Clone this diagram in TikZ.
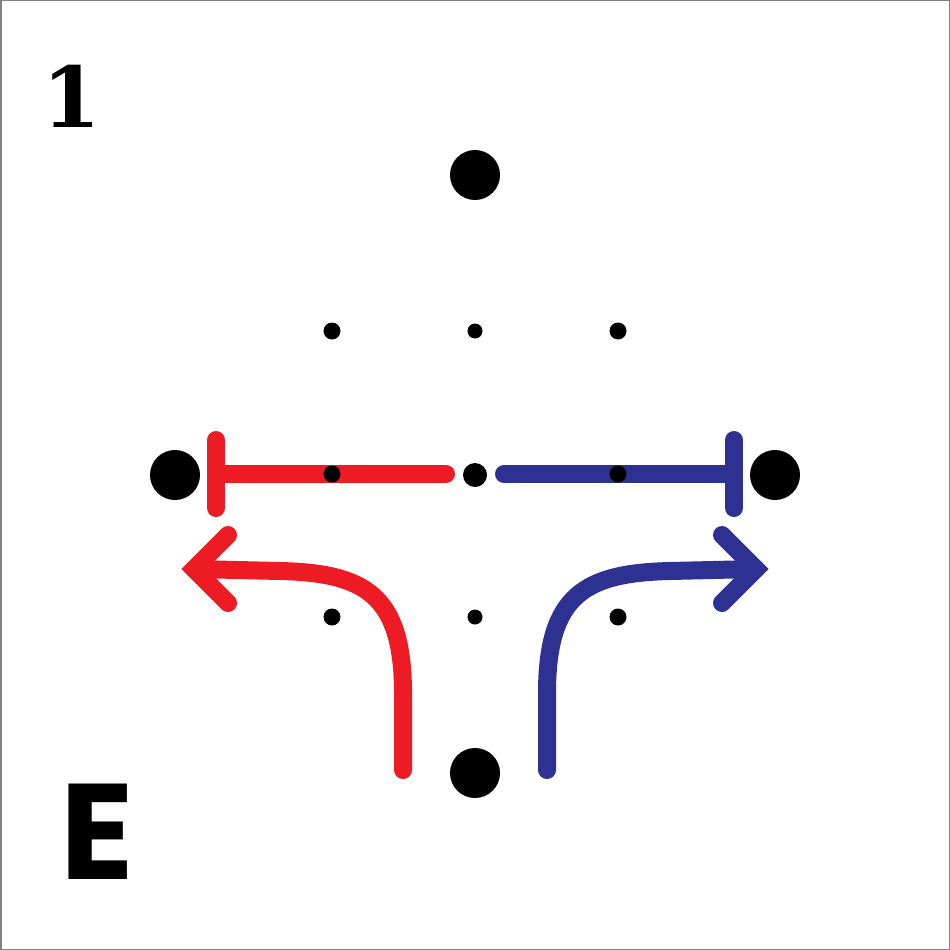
\documentclass[tikz,border=0pt]{standalone}
\usepackage{fontspec}
\newfontfamily\efont{Poppins}
\newfontfamily\onefont{DejaVu Serif}
\definecolor{myred}{HTML}{ED1C24}
\definecolor{myblue}{HTML}{2E3192}
\begin{document}
\begin{tikzpicture}[x=1pt,y=-1pt,
  bigdot/.style={circle,fill=black,minimum size=50pt,inner sep=0pt},
  middot/.style={circle,fill=black,minimum size=24pt,inner sep=0pt},
  smalldot/.style={circle,fill=black,minimum size=17pt,inner sep=0pt},
  tinydot/.style={circle,fill=black,minimum size=15pt,inner sep=0pt},
  stroke/.style={line width=18pt,line cap=round},
  head/.style={line width=18pt,line cap=round,line join=miter}]
\useasboundingbox (0,0) rectangle (950,950);
\draw[gray,line width=1.5pt] (0.75,0.75) rectangle (949.25,949.25);
% coordinates
\coordinate (rs) at (446,474);
\coordinate (rt) at (216,474);
\coordinate (bs) at (504,474);
\coordinate (bt) at (734,474);
% red inhibition
\draw[stroke,myred] (rs) -- (rt);
\draw[stroke,myred] ([yshift=-34pt]rt) -- ([yshift=34pt]rt);
% blue inhibition
\draw[stroke,myblue] (bs) -- (bt);
\draw[stroke,myblue] ([yshift=-34pt]bt) -- ([yshift=34pt]bt);
% red curved arrow
\coordinate (r0) at (403,770);
\coordinate (rtip) at (194,569);
\draw[stroke,myred] (r0) -- (403,690) .. controls (402,595) and (365,573) .. (280,571) -- (rtip);
\draw[head,myred] (228,535) -- (rtip) -- (228,603);
% blue curved arrow
\coordinate (b0) at (547,770);
\coordinate (btip) at (756,569);
\draw[stroke,myblue] (b0) -- (547,690) .. controls (548,595) and (585,573) .. (670,571) -- (btip);
\draw[head,myblue] (722,535) -- (btip) -- (722,603);
% labels
\node[font=\onefont\fontsize{84}{84}\selectfont\bfseries] (one) at (72,96) {1};
\node[font=\efont\fontsize{136}{136}\selectfont\bfseries] (e) at (97,832) {E};
% dots
\node[bigdot] (top) at (475,175) {};
\node[bigdot] (left) at (175,475) {};
\node[bigdot] (right) at (775,475) {};
\node[bigdot] (bottom) at (475,773) {};
\node[middot] (c) at (475,475) {};
\node[smalldot] (a1) at (332,331) {};
\node[tinydot] (a2) at (475,331) {};
\node[smalldot] (a3) at (618,331) {};
\node[smalldot] (b1) at (332,474) {};
\node[smalldot] (b3) at (618,474) {};
\node[smalldot] (d1) at (332,617) {};
\node[tinydot] (d2) at (475,617) {};
\node[smalldot] (d3) at (618,617) {};
\end{tikzpicture}
\end{document}
